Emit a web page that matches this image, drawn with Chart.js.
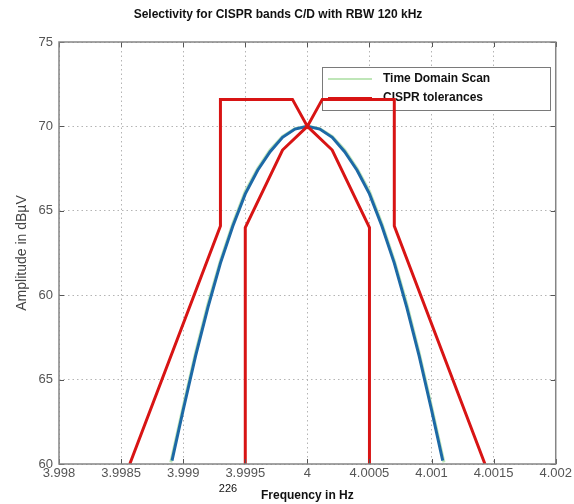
<!DOCTYPE html>
<html>
<head>
<meta charset="utf-8">
<script src="https://cdn.jsdelivr.net/npm/chart.js@4.4.1/dist/chart.umd.min.js"></script>
<style>
  html, body { margin: 0; padding: 0; background: #ffffff; }
  #wrap { position: relative; width: 574px; height: 504px; }
</style>
</head>
<body>
<div id="wrap"><canvas id="c"></canvas></div>
<script>
// Axis ticks
const xTickValues = [3.998, 3.9985, 3.999, 3.9995, 4, 4.0005, 4.001, 4.0015, 4.002];
const xTickLabels = ['3.998', '3.9985', '3.999', '3.9995', '4', '4.0005', '4.001', '4.0015', '4.002'];
const yTickValues = [50, 55, 60, 65, 70, 75];
const yTickLabels = ['60', '65', '60', '65', '70', '75'];

// CISPR tolerance mask, upper limit
const upperFreq = [3.99857, 3.9993, 3.9993, 3.99988, 4.0, 4.00012, 4.0007, 4.0007, 4.00143];
const upperAmp  = [50, 64.1, 71.6, 71.6, 70, 71.6, 71.6, 64.1, 50];

// CISPR tolerance mask, lower limit
const lowerFreq = [3.9995, 3.9995, 3.9998, 4.0, 4.0002, 4.0005, 4.0005];
const lowerAmp  = [50, 64, 68.6, 70, 68.6, 64, 50];

// Measured filter response
const responseFreq = [3.99891, 3.999, 3.9991, 3.9992, 3.9993, 3.9994, 3.9995, 3.9996, 3.9997, 3.9998, 3.9999, 4.0,
                      4.0001, 4.0002, 4.0003, 4.0004, 4.0005, 4.0006, 4.0007, 4.0008, 4.0009, 4.001, 4.00109];
const responseAmp  = [50.2, 53.2, 56.4, 59.3, 61.9, 64.1, 66.0, 67.4, 68.5, 69.35, 69.84, 70.0,
                      69.84, 69.35, 68.5, 67.4, 66.0, 64.1, 61.9, 59.3, 56.4, 53.2, 50.2];

// Time domain scan
const scanFreq = [3.9989, 3.999, 3.9991, 3.9992, 3.9993, 3.9994, 3.9995, 3.9996, 3.9997, 3.9998, 3.9999, 4.0,
                  4.0001, 4.0002, 4.0003, 4.0004, 4.0005, 4.0006, 4.0007, 4.0008, 4.0009, 4.001, 4.0011];
const scanAmp  = [50.1, 53.4, 56.6, 59.5, 62.05, 64.25, 66.15, 67.5, 68.6, 69.4, 69.86, 70.0,
                  69.86, 69.4, 68.6, 67.5, 66.15, 64.25, 62.05, 59.5, 56.6, 53.4, 50.1];

const FONT = "'Liberation Sans', Arial, Helvetica, sans-serif";
const RED = '#d81414';
const BLUE = '#1d69a6';
const GREEN = '#bfe6b8';

const toPoints = (xs, ys) => xs.map((x, i) => ({ x: x, y: ys[i] }));

// Opaque legend box inside the plot, drawn beneath the curves
const innerLegend = {
  id: 'innerLegend',
  beforeDatasetsDraw(chart) {
    const ctx = chart.ctx;
    const entries = chart.data.datasets
      .filter(d => d.legendOrder !== undefined)
      .sort((a, b) => a.legendOrder - b.legendOrder);
    const x0 = 322, y0 = 67, w = 228, h = 43;
    ctx.save();
    ctx.fillStyle = '#ffffff';
    ctx.fillRect(x0, y0, w, h);
    ctx.strokeStyle = '#7a7a7a';
    ctx.lineWidth = 1;
    ctx.strokeRect(x0 + 0.5, y0 + 0.5, w, h);
    ctx.font = 'bold 12px ' + FONT;
    ctx.textBaseline = 'middle';
    ctx.textAlign = 'left';
    entries.forEach((d, i) => {
      const y = y0 + 12 + i * 19;
      ctx.strokeStyle = d.borderColor;
      ctx.lineWidth = 2;
      ctx.beginPath();
      ctx.moveTo(x0 + 6, y);
      ctx.lineTo(x0 + 50, y);
      ctx.stroke();
      ctx.fillStyle = '#111111';
      ctx.fillText(d.label, x0 + 61, y);
    });
    ctx.restore();
  }
};

// Box frame with inward tick marks on all four sides
const axesBox = {
  id: 'axesBox',
  afterDatasetsDraw(chart) {
    const { ctx, chartArea: a, scales } = chart;
    ctx.save();
    ctx.strokeStyle = '#555555';
    ctx.lineWidth = 1;
    ctx.beginPath();
    xTickValues.forEach(v => {
      const px = Math.round(scales.x.getPixelForValue(v)) + 0.5;
      ctx.moveTo(px, a.bottom); ctx.lineTo(px, a.bottom - 5);
      ctx.moveTo(px, a.top); ctx.lineTo(px, a.top + 5);
    });
    yTickValues.forEach(v => {
      const py = Math.round(scales.y.getPixelForValue(v)) + 0.5;
      ctx.moveTo(a.left, py); ctx.lineTo(a.left + 5, py);
      ctx.moveTo(a.right, py); ctx.lineTo(a.right - 5, py);
    });
    ctx.stroke();
    ctx.strokeStyle = '#858585';
    ctx.lineWidth = 1.5;
    ctx.strokeRect(a.left, a.top, a.right - a.left, a.bottom - a.top);
    ctx.restore();
  },
  afterDraw(chart) {
    const ctx = chart.ctx;
    ctx.save();
    ctx.fillStyle = '#111111';
    ctx.font = '11px ' + FONT;
    ctx.textAlign = 'center';
    ctx.textBaseline = 'middle';
    ctx.fillText('226', 228, 489);
    ctx.restore();
  }
};

new Chart(document.getElementById('c'), {
  type: 'line',
  data: {
    datasets: [
      { label: 'CISPR tolerances', legendOrder: 1, data: toPoints(upperFreq, upperAmp),
        borderColor: RED, borderWidth: 3 },
      { label: 'CISPR tolerances', data: toPoints(lowerFreq, lowerAmp),
        borderColor: RED, borderWidth: 3 },
      { label: 'Response', data: toPoints(responseFreq, responseAmp),
        borderColor: BLUE, borderWidth: 3 },
      { label: 'Time Domain Scan', legendOrder: 0, data: toPoints(scanFreq, scanAmp),
        borderColor: GREEN, borderWidth: 3 }
    ]
  },
  options: {
    responsive: true,
    maintainAspectRatio: false,
    animation: false,
    devicePixelRatio: 1,
    layout: { padding: { left: 0, right: 18, top: 0, bottom: 0 } },
    elements: {
      point: { radius: 0, hoverRadius: 0 },
      line: { tension: 0, fill: false, borderJoinStyle: 'miter', borderCapStyle: 'butt' }
    },
    plugins: {
      legend: { display: false },
      tooltip: { enabled: false },
      title: {
        display: true,
        text: 'Selectivity for CISPR bands C/D with RBW 120 kHz',
        color: '#111111',
        font: { family: FONT, size: 12, weight: 'bold' },
        padding: { top: 7.8, bottom: 19.8 }
      }
    },
    scales: {
      x: {
        type: 'linear',
        min: 3.998,
        max: 4.002,
        afterBuildTicks: s => { s.ticks = xTickValues.map(v => ({ value: v })); },
        afterFit: s => { s.height = 40; },
        ticks: {
          color: '#555555',
          font: { family: FONT, size: 13 },
          padding: 2,
          maxRotation: 0,
          autoSkip: false,
          callback: (v, i) => xTickLabels[i]
        },
        grid: { color: '#b4b4b4', lineWidth: 1, drawTicks: false },
        border: { display: false, dash: [1.5, 3] },
        title: {
          display: true,
          text: 'Frequency in Hz',
          color: '#111111',
          font: { family: FONT, size: 12, weight: 'bold' },
          padding: { top: 0, bottom: 0.8 }
        }
      },
      y: {
        type: 'linear',
        min: 50,
        max: 75,
        afterBuildTicks: s => { s.ticks = yTickValues.map(v => ({ value: v })); },
        afterFit: s => { s.width = 59; },
        ticks: {
          color: '#555555',
          font: { family: FONT, size: 13 },
          padding: 6,
          autoSkip: false,
          callback: (v, i) => yTickLabels[i]
        },
        grid: { color: '#b4b4b4', lineWidth: 1, drawTicks: false },
        border: { display: false, dash: [1.5, 3] },
        title: {
          display: true,
          text: 'Amplitude in dBµV',
          color: '#444444',
          font: { family: FONT, size: 14 },
          padding: { top: 13.6, bottom: 0 }
        }
      }
    }
  },
  plugins: [innerLegend, axesBox]
});
</script>
</body>
</html>
